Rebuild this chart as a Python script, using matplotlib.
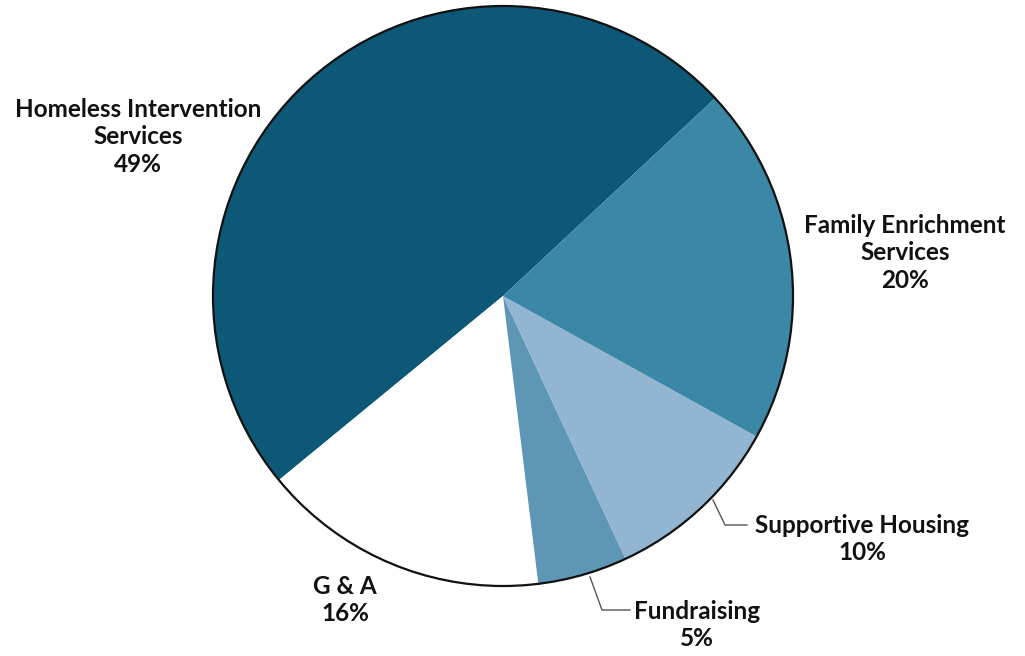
import matplotlib.pyplot as plt

# slice order, counter-clockwise from the upper-right boundary
labels = ['Homeless Intervention\nServices', 'G & A', 'Fundraising',
          'Supportive Housing', 'Family Enrichment\nServices']
shares = [49, 16, 5, 10, 20]
colors = ['#0e5877', '#ffffff', '#5e96b6', '#92b6d2', '#3a88a6']

W, H = 1025, 656
fig = plt.figure(figsize=(W / 100, H / 100), dpi=100)
ax = fig.add_axes([0, 0, 1, 1])
ax.set_xlim(0, W)
ax.set_ylim(0, H)
ax.set_aspect('equal')
ax.axis('off')

cx, cy, r = 503, H - 296, 290
wedges, _ = ax.pie(shares, colors=colors, startangle=43, counterclock=True,
                   center=(cx, cy), radius=r,
                   wedgeprops=dict(linewidth=0, edgecolor='none'))
ax.add_patch(plt.Circle((cx, cy), r, fill=False, ec='#111111', lw=1.6))
ax.set_xlim(0, W)
ax.set_ylim(0, H)

font = dict(family=['Lato', 'DejaVu Sans'], fontsize=17.5, fontweight='bold',
            ha='center', va='center', color='#111111', linespacing=1.25)

# label text: (x, y) in pixels from the top-left corner
label_pos = [(138, 137), (345, 600), (697, 625), (862, 539), (905, 253)]
pct = [f'{s}%' for s in shares]
for lab, p, (x, y) in zip(labels, pct, label_pos):
    ax.text(x, H - y, f'{lab}\n{p}', **font)

# leader lines for the two small slices
lx = [713, 725, 747]
ly = [500, 525, 525]
ax.plot(lx, [H - v for v in ly], color='#555555', lw=1)
fx = [590, 602, 630]
fy = [577, 610, 610]
ax.plot(fx, [H - v for v in fy], color='#555555', lw=1)

plt.savefig('out.png', dpi=100, facecolor='white')
